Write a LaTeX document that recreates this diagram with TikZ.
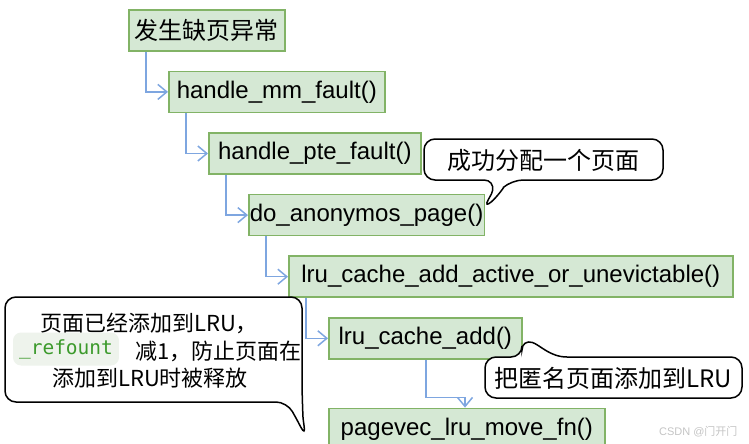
\documentclass[tikz,border=0pt]{standalone}
\usepackage{fontspec}
\setmainfont{Liberation Sans}
\setmonofont{DejaVu Sans Mono}
\newfontfamily\cjk{Noto Sans CJK SC}
\usepackage{xcolor}
\usetikzlibrary{positioning,arrows.meta}

\definecolor{fnfill}{HTML}{D5E8D4}
\definecolor{fnline}{HTML}{82B366}
\definecolor{flowblue}{HTML}{7EA6E0}
\definecolor{codegreen}{HTML}{3C9A2C}
\definecolor{codebg}{HTML}{EEF3EC}
\definecolor{wmgray}{HTML}{C4C4C4}

\begin{document}
\begin{tikzpicture}[
  x=1pt, y=-1pt,
  font=\fontsize{24}{28}\selectfont,
  fn/.style={draw=fnline, fill=fnfill, line width=1.6pt, inner xsep=1pt, inner ysep=0pt, minimum height=41pt},
  flow/.style={draw=flowblue, line width=1.5pt, -{Straight Barb[length=9pt, width=15pt, line width=1.5pt]}},
  callout/.style={draw=black, line width=1.5pt, fill=white, rounded corners=11pt},
  note/.style={inner sep=0pt, font=\fontsize{24}{28}\selectfont\cjk},
  smallnote/.style={inner sep=0pt, font=\fontsize{22}{26}\selectfont\cjk},
  code/.style={fill=codebg, rounded corners=8pt, text=codegreen, inner xsep=6pt, inner ysep=0pt, minimum height=33pt, font=\fontsize{19.5}{24}\selectfont\ttfamily}
]
\useasboundingbox (0,0) rectangle (749,444);

% call chain
\node[fn, minimum width=156pt, anchor=north west] (fault) at (128,9) {\cjk 发生缺页异常};
\node[fn, minimum width=216pt, below right=19pt and 40pt of fault.south west] (mm) {handle\_mm\_fault()};
\node[fn, minimum width=212pt, below right=19pt and 40pt of mm.south west] (pte) {handle\_pte\_fault()};
\node[fn, minimum width=235pt, below right=19pt and 40pt of pte.south west] (anon) {do\_anonymos\_page()};
\node[fn, minimum width=444pt, below right=19pt and 40pt of anon.south west] (active) {lru\_cache\_add\_active\_or\_unevictable()};
\node[fn, minimum width=193pt, below right=19pt and 40pt of active.south west] (add) {lru\_cache\_add()};
\node[fn, minimum width=276pt, below right=48pt and 0pt of add.south west] (move) {pagevec\_lru\_move\_fn()};

\draw[flow] ([xshift=18pt]fault.south west) |- (mm.west);
\draw[flow] ([xshift=18pt]mm.south west) |- (pte.west);
\draw[flow] ([xshift=18pt]pte.south west) |- (anon.west);
\draw[flow] ([xshift=18pt]anon.south west) |- (active.west);
\draw[flow] ([xshift=18pt]active.south west) |- (add.west);
\draw[flow] ([xshift=98pt]add.south west) -- ++(0pt,-38pt) -| ([xshift=137pt]move.north west);

% callouts
\draw[callout] (495,180) .. controls (492,193) .. (483,209) .. controls (497,197) and (505,186) .. (512,180) -- (663,180) -- (663,139) -- (424,139) -- (424,180) -- cycle;
\node[note] (alloc) at (543,160) {成功分配一个页面};

\draw[callout] (287,402) .. controls (296,418) .. (306,437) .. controls (303,420) .. (302,388) -- (302,297) -- (5,297) -- (5,402) -- cycle;
\node[smallnote] (added) at (149,323) {页面已经添加到LRU，};
\node[code] (ref) at (66,349) {\_refount};
\node[smallnote, anchor=west] (dec) at (135,351) {减1，防止页面在};
\node[smallnote] (keep) at (150,378) {添加到LRU时被释放};

\draw[callout] (522,357) .. controls (522,350) .. (522,339) .. controls (540,345) and (550,357) .. (578,357) -- (742,357) -- (742,398) -- (485,398) -- (485,357) -- cycle;
\node[note] (tolru) at (613,378) {把匿名页面添加到LRU};

\node[anchor=east, text=wmgray, font=\fontsize{11}{13}\selectfont] (wm) at (741,432) {CSDN @{\cjk 门开门}};
\end{tikzpicture}
\end{document}
